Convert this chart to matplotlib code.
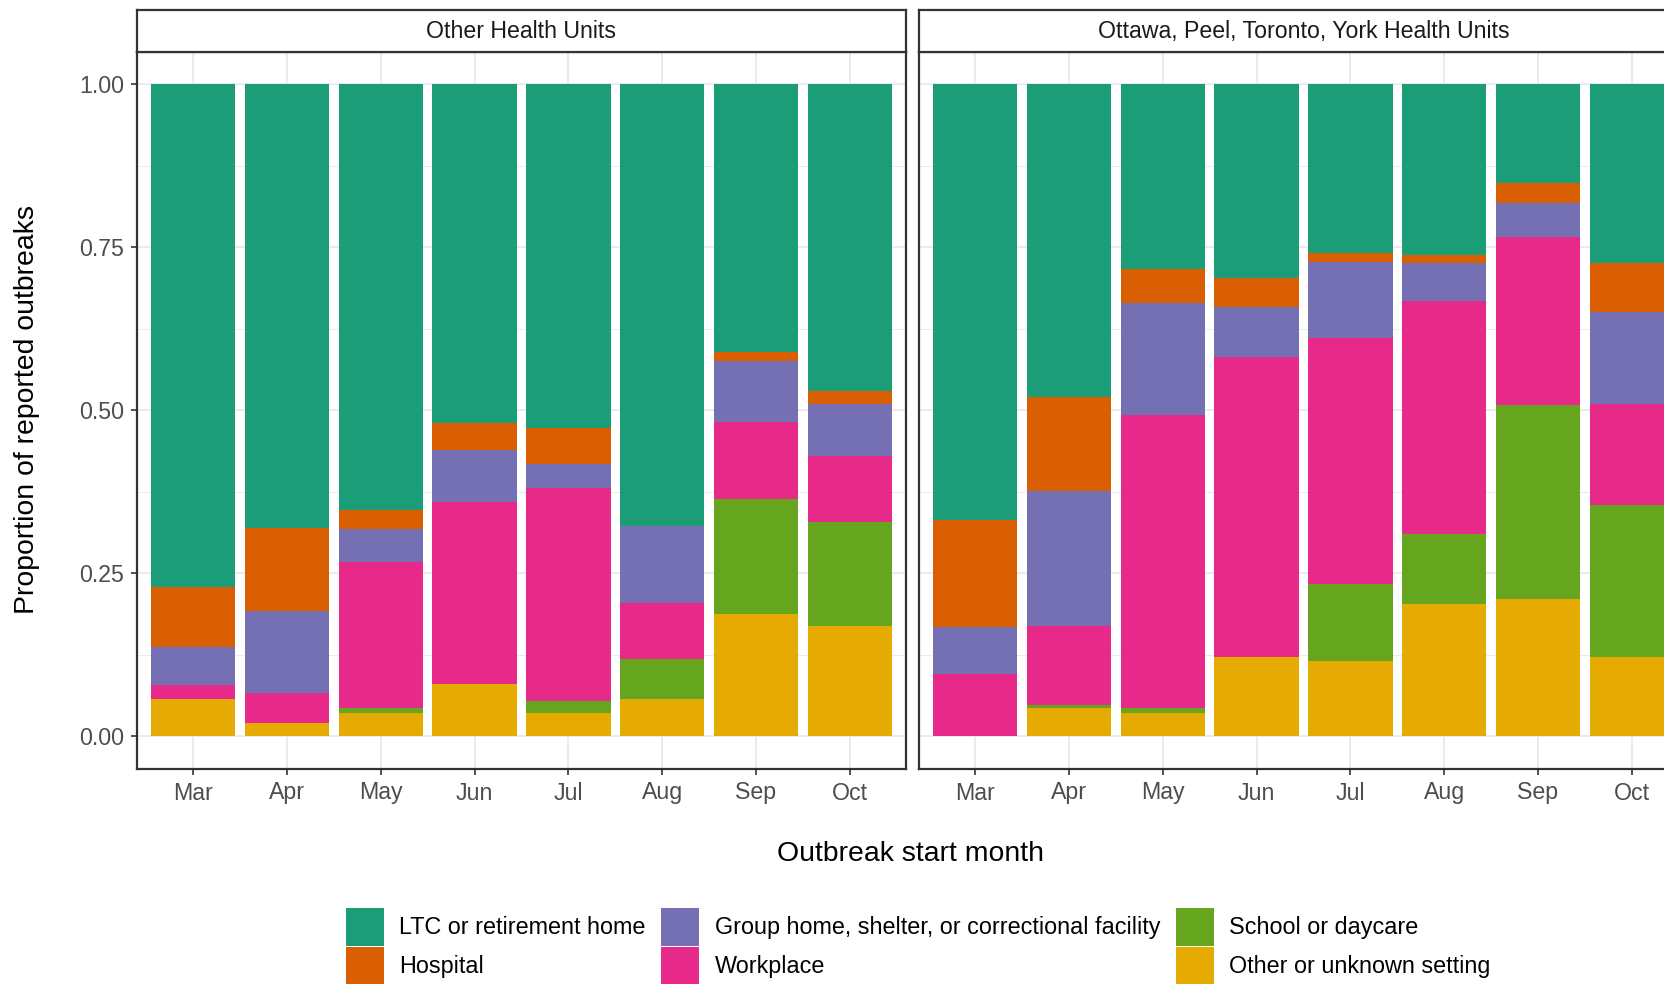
import numpy as np
import matplotlib
matplotlib.use("Agg")
import matplotlib.pyplot as plt

plt.rcParams.update({'font.family': ['Liberation Sans', 'DejaVu Sans'],
                     'font.size': 16.7})

months = ['Mar', 'Apr', 'May', 'Jun', 'Jul', 'Aug', 'Sep', 'Oct']
panels = ['Other Health Units', 'Ottawa, Peel, Toronto, York Health Units']

# stacking order, bottom to top
settings = ['Other or unknown setting', 'School or daycare', 'Workplace',
            'Group home, shelter, or correctional facility', 'Hospital',
            'LTC or retirement home']
colors = ['#E6AB02', '#66A61E', '#E7298A', '#7570B3', '#D95F02', '#1B9E77']

# Other Health Units
other_other = [0.057, 0.020, 0.036, 0.080, 0.036, 0.058, 0.188, 0.170]
other_school = [0.000, 0.000, 0.008, 0.000, 0.018, 0.060, 0.176, 0.159]
other_work = [0.022, 0.046, 0.224, 0.280, 0.327, 0.087, 0.118, 0.101]
other_group = [0.058, 0.126, 0.050, 0.079, 0.037, 0.118, 0.094, 0.080]
other_hosp = [0.092, 0.128, 0.029, 0.041, 0.055, 0.000, 0.013, 0.019]
other_ltc = [0.771, 0.680, 0.653, 0.520, 0.527, 0.677, 0.411, 0.471]

# Ottawa, Peel, Toronto, York
gta_other = [0.000, 0.043, 0.036, 0.122, 0.116, 0.203, 0.211, 0.121]
gta_school = [0.000, 0.005, 0.007, 0.000, 0.118, 0.107, 0.297, 0.234]
gta_work = [0.096, 0.121, 0.449, 0.459, 0.377, 0.357, 0.257, 0.154]
gta_group = [0.072, 0.207, 0.172, 0.078, 0.116, 0.059, 0.053, 0.142]
gta_hosp = [0.164, 0.145, 0.053, 0.044, 0.014, 0.012, 0.030, 0.075]
gta_ltc = [0.668, 0.479, 0.283, 0.297, 0.259, 0.262, 0.152, 0.274]

data = [[other_other, other_school, other_work, other_group, other_hosp, other_ltc],
        [gta_other, gta_school, gta_work, gta_group, gta_hosp, gta_ltc]]

W, H = 1665, 984
fig = plt.figure(figsize=(W / 100, H / 100), dpi=100)

frame = '#333333'
panel_left = [137, 919]
panel_w = 769
top, bottom = 51.5, 769

def draw_panel(i):
    ax = fig.add_axes([panel_left[i] / W, 1 - bottom / H, panel_w / W, (bottom - top) / H])
    x = np.arange(1, len(months) + 1)
    base = np.zeros(len(months))
    handles = []
    for vals, lab, c in zip(data[i], settings, colors):
        b = ax.bar(x, vals, width=0.9, bottom=base, color=c, label=lab, zorder=2)
        handles.append(b)
        base = base + np.array(vals)
    ax.set_xlim(0.4, 8.6)
    ax.set_ylim(-0.05, 1.05)
    ax.set_xticks(x)
    ax.set_xticklabels(months)
    ax.set_yticks([0, 0.25, 0.5, 0.75, 1.0])
    ax.set_yticks([0.125, 0.375, 0.625, 0.875], minor=True)
    ax.grid(True, which='major', color='#EBEBEB', linewidth=1.4, zorder=0)
    ax.grid(True, which='minor', axis='y', color='#EBEBEB', linewidth=0.7, zorder=0)
    ax.set_axisbelow(True)
    ax.tick_params(axis='both', which='major', length=4, width=1.2, color=frame,
                   labelcolor='#4D4D4D', labelsize=16.7, pad=5)
    ax.tick_params(axis='y', which='minor', length=0)
    if i == 0:
        ax.set_yticklabels(['0.00', '0.25', '0.50', '0.75', '1.00'])
    else:
        ax.tick_params(axis='y', which='both', left=False, labelleft=False)
    for s in ax.spines.values():
        s.set_color(frame)
        s.set_linewidth(1.6)

    # facet strip
    st = fig.add_axes([panel_left[i] / W, 1 - top / H, panel_w / W, (top - 9.5) / H])
    st.set_xticks([])
    st.set_yticks([])
    for s in st.spines.values():
        s.set_color(frame)
        s.set_linewidth(1.6)
    st.text(0.5, 0.48, panels[i], ha='center', va='center', fontsize=16.7,
            color='#1A1A1A', transform=st.transAxes)
    return handles

handles = draw_panel(0)
draw_panel(1)

fig.text(911 / W, 1 - 854 / H, 'Outbreak start month', ha='center', va='center', fontsize=20.4)
fig.text(27 / W, 1 - 409 / H, 'Proportion of reported outbreaks', ha='center', va='center',
         rotation=90, fontsize=20.4)

# legend: ggplot order, filled column by column
order = [5, 4, 3, 2, 1, 0]
leg = fig.legend([handles[k] for k in order], [settings[k] for k in order],
                 loc='upper left', bbox_to_anchor=(346 / W, 1 - 908 / H), ncol=3,
                 frameon=False, fontsize=16.85, borderpad=0, borderaxespad=0,
                 handlelength=1.62, handleheight=2.09, handletextpad=0.65,
                 columnspacing=0.68, labelspacing=0.07)

plt.savefig('out.png', dpi=100)
